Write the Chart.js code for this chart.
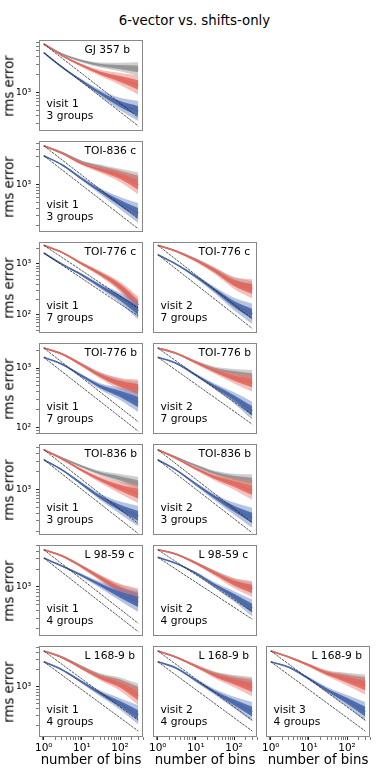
<!DOCTYPE html>
<html>
<head>
<meta charset="utf-8">
<script src="https://cdn.jsdelivr.net/npm/chart.js@4.4.0/dist/chart.umd.min.js"></script>
<style>
  body { margin: 0; background: #fff; width: 389px; height: 777px; position: relative; overflow: hidden; font-family: "DejaVu Sans", sans-serif; }
  canvas { position: absolute; }
  .lbl { position: absolute; color: #000; white-space: nowrap; line-height: 1; font-size: 13.3px; transform: translate(-50%, -50%); }
  .rot { transform: translate(-50%, -50%) rotate(-90deg); }
</style>
</head>
<body>
<div class="lbl" style="left:194.5px; top:20.6px;">6-vector vs. shifts-only</div>
<script>
const binsX = [1, 3, 10, 30, 100, 300];

const planetNames = ["GJ 357 b", "TOI-836 c", "TOI-776 c", "TOI-776 c", "TOI-776 b", "TOI-776 b",
  "TOI-836 b", "TOI-836 b", "L 98-59 c", "L 98-59 c", "L 168-9 b", "L 168-9 b", "L 168-9 b"];
const visitNo = [1, 1, 1, 2, 1, 2, 1, 2, 1, 2, 1, 2, 3];
const groupCount = [3, 3, 7, 7, 7, 7, 3, 3, 4, 4, 4, 4, 4];

// y range of each panel
const rmsMin = [222, 158, 44, 77, 78, 56, 174, 168, 150, 80, 126, 126, 126];
const rmsMax = [7640, 5510, 2700, 2610, 2630, 2720, 5820, 5850, 5080, 5260, 5330, 5330, 5330];

// shifts-only (grey)
const grayRms = [
  [6550, 4440, 3380, 2890, 2670, 2480],
  [4580, 3520, 2430, 2000, 1580, 1250],
  [2330, 1690, 1010, 643, 354, 157],
  [2300, 1850, 1320, 900, 560, 445],
  [2170, 1730, 1150, 770, 560, 460],
  [2200, 1760, 1210, 906, 757, 658],
  [4680, 3400, 2450, 1880, 1550, 1260],
  [4680, 3480, 2510, 1900, 1560, 1380],
  [4240, 3340, 2220, 1450, 930, 680],
  [4240, 3480, 2320, 1520, 960, 730],
  [4350, 3390, 2250, 1580, 1240, 873],
  [4350, 3380, 2340, 1720, 1370, 1150],
  [4350, 3380, 2430, 1760, 1510, 1270]
];
// 6-vector (red)
const redRms = [
  [6550, 4190, 2840, 2120, 1680, 1330],
  [4580, 3400, 2290, 1800, 1400, 990],
  [2330, 1690, 1010, 643, 354, 157],
  [2300, 1820, 1280, 867, 535, 425],
  [2170, 1710, 1120, 748, 542, 444],
  [2200, 1750, 1180, 835, 611, 494],
  [4680, 3270, 2110, 1480, 1080, 857],
  [4680, 3340, 2230, 1610, 1240, 959],
  [4240, 3320, 2190, 1420, 901, 653],
  [4240, 3440, 2260, 1450, 914, 693],
  [4350, 3300, 2130, 1460, 1070, 680],
  [4350, 3370, 2320, 1620, 1230, 968],
  [4350, 3370, 2410, 1730, 1320, 1040]
];
// blue
const blueRms = [
  [4670, 2670, 1550, 973, 634, 483],
  [3100, 2180, 1260, 782, 490, 331],
  [1640, 990, 608, 366, 215, 120],
  [1600, 1110, 682, 413, 237, 161],
  [1510, 1160, 735, 492, 368, 268],
  [1480, 1150, 689, 430, 261, 150],
  [3180, 2150, 1240, 755, 498, 362],
  [3170, 2130, 1220, 746, 468, 328],
  [3070, 2250, 1560, 1090, 743, 560],
  [2990, 2260, 1430, 845, 495, 289],
  [2790, 2010, 1210, 762, 491, 313],
  [2790, 2160, 1290, 815, 522, 358],
  [2790, 2220, 1390, 873, 560, 358]
];
// white-noise lines, value at 1 bin and at 300 bins
const refUpper = [[6550, 378], [4580, 264], [2330, 135], [2300, 133], [2170, 125], [2200, 127],
  [4680, 270], [4680, 270], [4240, 245], [4240, 245], [4350, 251], [4350, 251], [4350, 251]];
const refLower = [[4670, 270], [3100, 179], [1640, 95], [1600, 92], [1510, 87], [1480, 85],
  [3180, 184], [3170, 183], [3070, 177], [2990, 173], [2790, 161], [2790, 161], [2790, 161]];
// scatter of the realisations (factor around the centre)
const spreadGray = [1.01, 1.03, 1.06, 1.10, 1.18, 1.30];
const spreadRed = [1.01, 1.03, 1.07, 1.13, 1.26, 1.45];
const spreadBlue = [1.01, 1.03, 1.07, 1.13, 1.27, 1.48];

// layout
const panelRow = [0, 1, 2, 2, 3, 3, 4, 4, 5, 5, 6, 6, 6];
const panelCol = [0, 0, 0, 1, 0, 1, 0, 1, 0, 1, 0, 1, 2];
const COL_X = [39, 153, 266];
const ROW_Y = [40, 141, 242, 343, 444, 545, 646];
const PW = 104, PH = 91;

Chart.defaults.font.family = "DejaVu Sans";
Chart.defaults.color = "#000";

const SUP = { "-": "⁻", "0": "⁰", "1": "¹", "2": "²", "3": "³", "4": "⁴", "5": "⁵", "6": "⁶", "7": "⁷", "8": "⁸", "9": "⁹" };
function decadeLabel(v) {
  const e = Math.round(Math.log10(v));
  if (Math.abs(v - Math.pow(10, e)) / v > 1e-6) return "";
  return "10" + String(e).split("").map(c => SUP[c]).join("");
}
function isNice(v) {
  const e = Math.floor(Math.log10(v) + 1e-9);
  const m = v / Math.pow(10, e);
  return Math.abs(m - Math.round(m)) < 1e-6;
}
function isDecade(v) { return decadeLabel(v) !== ""; }

const panelText = {
  id: "panelText",
  afterDatasetsDraw(chart, args, opts) {
    const { ctx, chartArea: a } = chart;
    ctx.save();
    ctx.fillStyle = "#000";
    ctx.font = '10.7px "DejaVu Sans"';
    ctx.textBaseline = "alphabetic";
    ctx.textAlign = "left";
    ctx.fillText(opts.name, a.left + 45.5, a.top + 13);
    ctx.fillText("visit " + opts.visit, a.left + 7.5, a.bottom - 24.5);
    ctx.fillText(opts.groups + " groups", a.left + 7.5, a.bottom - 12.5);
    ctx.strokeStyle = "#888";
    ctx.lineWidth = 1;
    ctx.strokeRect(Math.round(a.left) + 0.5, Math.round(a.top) + 0.5, Math.round(a.width) - 1, Math.round(a.height) - 1);
    ctx.restore();
  }
};

function addLabel(text, x, y, rotated) {
  const d = document.createElement("div");
  d.className = "lbl" + (rotated ? " rot" : "");
  d.style.left = x + "px";
  d.style.top = y + "px";
  d.textContent = text;
  document.body.appendChild(d);
}

for (let i = 0; i < planetNames.length; i++) {
  const row = panelRow[i], col = panelCol[i];
  const bottomRow = row === ROW_Y.length - 1;
  const padL = col === 0 ? 39 : 8;
  const padT = 4, padR = 4;
  const padB = bottomRow ? 24 : 6;

  const canvas = document.createElement("canvas");
  canvas.width = padL + PW + padR;
  canvas.height = padT + PH + padB;
  canvas.style.left = (COL_X[col] - padL) + "px";
  canvas.style.top = (ROW_Y[row] - padT) + "px";
  document.body.appendChild(canvas);

  const datasets = [];
  const common = { borderWidth: 0, borderColor: "rgba(0,0,0,0)", pointRadius: 0, cubicInterpolationMode: "monotone" };
  function addBand(center, spread, power, color, order) {
    const hiIdx = datasets.length;
    datasets.push(Object.assign({ data: binsX.map((x, j) => ({ x, y: center[j] * Math.pow(spread[j], power) })), fill: false, order }, common));
    datasets.push(Object.assign({ data: binsX.map((x, j) => ({ x, y: center[j] / Math.pow(spread[j], power) })), fill: hiIdx, backgroundColor: color, order }, common));
  }
  function addSeries(center, spread, outer, inner, line, order) {
    addBand(center, spread, 1, outer, order + 2);
    addBand(center, spread, 0.5, inner, order + 1);
    datasets.push(Object.assign({}, common, {
      data: binsX.map((x, j) => ({ x, y: center[j] })), fill: false, borderWidth: 1.6, borderColor: line, order
    }));
  }
  addSeries(grayRms[i], spreadGray, "rgba(160,160,160,0.5)", "rgba(148,148,148,0.9)", "rgb(148,148,148)", 7);
  addSeries(redRms[i], spreadRed, "rgba(236,130,120,0.5)", "rgba(226,104,94,0.88)", "rgb(226,104,94)", 4);
  addSeries(blueRms[i], spreadBlue, "rgba(110,138,196,0.5)", "rgba(74,104,170,0.92)", "rgb(74,104,170)", 1);
  [refUpper[i], refLower[i]].forEach(r => {
    datasets.push({
      data: [{ x: binsX[0], y: r[0] }, { x: binsX[binsX.length - 1], y: r[1] }],
      borderColor: "#1a1a1a", borderWidth: 0.75, borderDash: [2.5, 1], pointRadius: 0, fill: false, order: 0
    });
  });

  new Chart(canvas.getContext("2d"), {
    type: "line",
    data: { datasets },
    plugins: [panelText],
    options: {
      responsive: false,
      animation: false,
      devicePixelRatio: 1,
      events: [],
      layout: { padding: { top: padT, right: padR, left: 0, bottom: 0 } },
      plugins: {
        legend: { display: false },
        tooltip: { enabled: false },
        panelText: { name: planetNames[i], visit: visitNo[i], groups: groupCount[i] }
      },
      scales: {
        x: {
          type: "logarithmic",
          min: 0.75,
          max: 400,
          afterBuildTicks: s => { s.ticks = s.ticks.filter(t => isNice(t.value)); },
          afterFit: s => { s.height = padB; s.paddingLeft = 0; s.paddingRight = 0; s.paddingTop = 0; s.paddingBottom = 0; },
          border: { display: false },
          grid: {
            drawOnChartArea: false,
            drawTicks: bottomRow,
            tickLength: 3,
            tickColor: "#222",
            tickWidth: c => (c.tick && isDecade(c.tick.value)) ? 1 : 0.6
          },
          ticks: { display: bottomRow, autoSkip: false, maxRotation: 0, padding: 1.5, font: { size: 10.5 }, callback: v => decadeLabel(v) }
        },
        y: {
          type: "logarithmic",
          min: rmsMin[i],
          max: rmsMax[i],
          afterBuildTicks: s => { s.ticks = s.ticks.filter(t => isNice(t.value)); },
          afterFit: s => { s.width = padL; s.paddingLeft = 0; s.paddingRight = 0; s.paddingTop = 0; s.paddingBottom = 0; },
          border: { display: false },
          grid: {
            drawOnChartArea: false,
            drawTicks: col === 0,
            tickLength: 3,
            tickColor: "#222",
            tickWidth: c => (c.tick && isDecade(c.tick.value)) ? 1 : 0.6
          },
          ticks: { display: col === 0, autoSkip: false, padding: 5, font: { size: 9 }, callback: v => decadeLabel(v) }
        }
      }
    }
  });

  if (col === 0) addLabel("rms error", 9, ROW_Y[row] + PH / 2, true);
  if (bottomRow) addLabel("number of bins", COL_X[col] + PW / 2, 759.5, false);
}
</script>
</body>
</html>
